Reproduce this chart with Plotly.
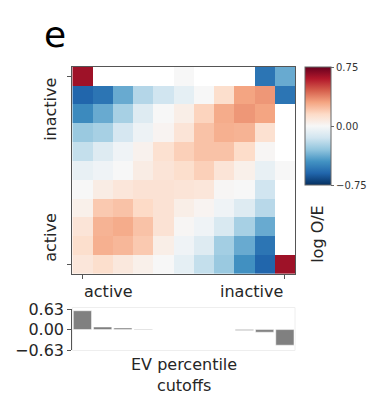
import plotly.graph_objects as go

W, H = 369, 402
nan = None

# log observed/expected contact enrichment between EV-percentile bins
log_oe = [
    [0.64, nan, nan, nan, nan, 0.00, nan, nan, nan, -0.55, -0.38],
    [-0.60, -0.55, -0.38, -0.22, -0.15, -0.07, 0.00, 0.13, 0.30, 0.33, -0.55],
    [-0.48, -0.38, -0.25, -0.10, 0.00, 0.05, 0.17, 0.28, 0.33, 0.30, nan],
    [-0.28, -0.25, -0.13, -0.04, 0.02, 0.10, 0.22, 0.27, 0.26, 0.12, nan],
    [-0.18, -0.10, -0.03, 0.03, 0.12, 0.18, 0.22, 0.22, 0.14, 0.01, nan],
    [-0.06, -0.03, 0.00, 0.06, 0.10, 0.13, 0.18, 0.10, 0.04, -0.06, 0.00],
    [0.00, 0.06, 0.09, 0.11, 0.11, 0.10, 0.09, 0.01, 0.00, -0.15, nan],
    [0.04, 0.20, 0.22, 0.15, 0.11, 0.05, 0.02, -0.03, -0.10, -0.21, nan],
    [0.10, 0.26, 0.28, 0.22, 0.11, 0.01, -0.03, -0.12, -0.25, -0.38, nan],
    [0.13, 0.27, 0.25, 0.20, 0.05, -0.03, -0.10, -0.26, -0.38, -0.55, nan],
    [0.09, 0.13, 0.08, 0.04, 0.00, -0.07, -0.18, -0.28, -0.46, -0.60, 0.64],
]
bin_index = list(range(11))
cutoff_values = [0.58, 0.08, 0.05, 0.02, nan, nan, nan, nan, -0.03, -0.08, -0.48]
bar_ticks = [-0.63, 0.0, 0.63]
bar_tick_text = ["−0.63", "0.00", "0.63"]
cbar_ticks = [-0.75, 0.0, 0.75]
cbar_tick_text = ["−0.75", "0.00", "0.75"]
end_labels = ["active", "inactive"]

rdbu_r = [
    [0.0, "#053061"], [0.1, "#2166ac"], [0.2, "#4393c3"], [0.3, "#92c5de"],
    [0.4, "#d1e5f0"], [0.5, "#f7f7f7"], [0.6, "#fddbc7"], [0.7, "#f4a582"],
    [0.8, "#d6604d"], [0.9, "#b2182b"], [1.0, "#67001f"],
]

TXT = "#262626"
FONT = "DejaVu Sans"


def fx(px):
    return px / W


def fy(px):
    return 1 - px / H


hm_left, hm_right = 72.3, 295.0
hm_top, hm_bottom = 60.7, 278.0
bar_top, bar_bottom = 315.0, 358.0

fig = go.Figure()

fig.add_trace(go.Heatmap(
    z=log_oe, x=bin_index, y=bin_index,
    colorscale=rdbu_r, zmin=-0.75, zmax=0.75,
    xaxis="x", yaxis="y", hoverinfo="skip",
    colorbar=dict(
        x=fx(305), xanchor="left", y=fy(61), yanchor="top",
        len=124 / H, lenmode="fraction",
        thickness=26, thicknessmode="pixels",
        outlinecolor="#666666", outlinewidth=1,
        tickvals=cbar_ticks, ticktext=cbar_tick_text,
        ticks="outside", ticklen=3, tickcolor="#666666",
        tickfont=dict(family=FONT, size=10, color="#333333"),
        xpad=0, ypad=0,
    ),
))

fig.add_trace(go.Bar(
    x=bin_index, y=cutoff_values, width=0.9,
    marker=dict(color="#808080", line=dict(color="#ffffff", width=0.5)),
    xaxis="x2", yaxis="y2", hoverinfo="skip", showlegend=False,
))

axis_common = dict(showgrid=False, zeroline=False)
fig.update_layout(
    width=W, height=H,
    margin=dict(l=0, r=0, t=0, b=0),
    paper_bgcolor="white", plot_bgcolor="white",
    font=dict(family=FONT, color=TXT),
    xaxis=dict(
        domain=[fx(hm_left), fx(hm_right)], range=[-0.5, 10.5],
        tickvals=[0, 10], showticklabels=False, ticks="outside", ticklen=4,
        tickcolor="#555555", showline=True, mirror=True,
        linecolor="#555555", linewidth=1.2, anchor="y", **axis_common,
    ),
    yaxis=dict(
        domain=[fy(hm_bottom), fy(hm_top)], range=[10.5, -0.5],
        tickvals=[0, 10], showticklabels=False, ticks="outside", ticklen=4,
        tickcolor="#555555", showline=True, mirror=True,
        linecolor="#555555", linewidth=1.2, anchor="x", **axis_common,
    ),
    xaxis2=dict(
        domain=[fx(hm_left), fx(hm_right)], range=[-0.5, 10.5],
        showticklabels=False, ticks="", showline=False, anchor="y2",
        **axis_common,
    ),
    yaxis2=dict(
        domain=[fy(bar_bottom), fy(bar_top)], range=[-0.63, 0.63],
        tickvals=bar_ticks, ticktext=bar_tick_text, ticks="outside",
        ticklen=4, tickcolor="#555555", showline=True,
        linecolor="#555555", linewidth=1.2, anchor="x2",
        tickfont=dict(family=FONT, size=16, color=TXT), **axis_common,
    ),
    showlegend=False,
)

# faint frame around the cutoff bar panel
fig.add_shape(
    type="rect", xref="paper", yref="paper",
    x0=fx(hm_left), x1=fx(hm_right), y0=fy(358.5), y1=fy(313.3),
    line=dict(color="#eeeeee", width=1), layer="below",
)

annotations = [
    dict(text="e", x=fx(42), y=fy(27), xanchor="left", yanchor="middle",
         font=dict(size=36, color="#000000")),
    dict(text=end_labels[0], x=fx(82), y=fy(297), xanchor="left",
         yanchor="middle", font=dict(size=16)),
    dict(text=end_labels[1], x=fx(285), y=fy(297), xanchor="right",
         yanchor="middle", font=dict(size=16)),
    dict(text=end_labels[1], x=fx(51), y=fy(70.7), xanchor="center",
         yanchor="top", textangle=-90, font=dict(size=16)),
    dict(text=end_labels[0], x=fx(51), y=fy(268), xanchor="center",
         yanchor="bottom", textangle=-90, font=dict(size=16)),
    dict(text="log O/E", x=fx(318), y=fy(236), xanchor="center",
         yanchor="middle", textangle=-90, font=dict(size=16)),
    dict(text="EV percentile<br>cutoffs", x=fx(183.5), y=fy(384),
         xanchor="center", yanchor="middle", font=dict(size=16)),
]
for a in annotations:
    a.update(xref="paper", yref="paper", showarrow=False)
fig.update_layout(annotations=annotations)

fig.write_html("out.html")
